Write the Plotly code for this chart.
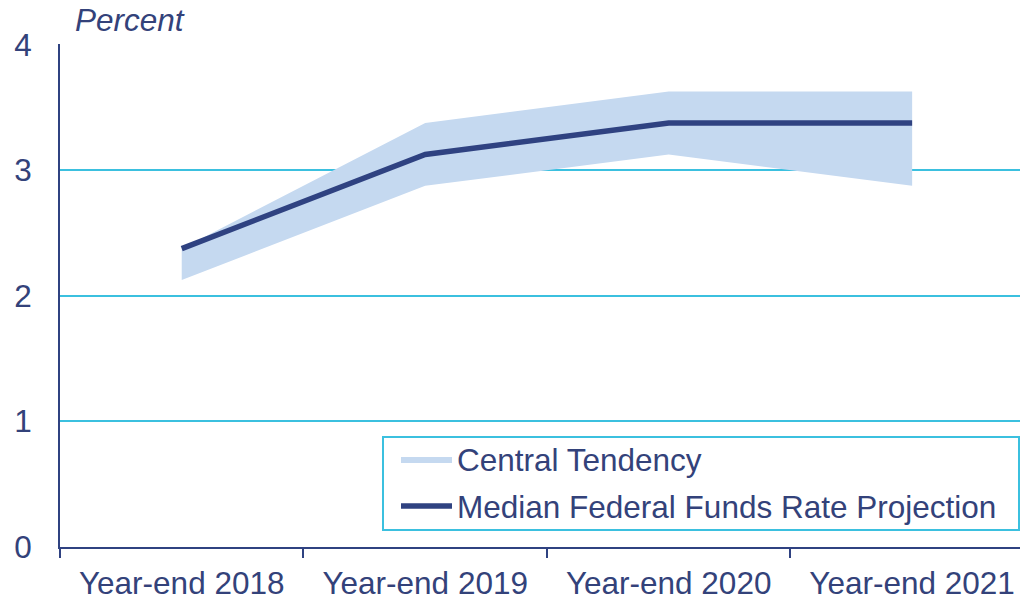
import plotly.graph_objects as go

categories = ["Year-end 2018", "Year-end 2019", "Year-end 2020", "Year-end 2021"]
median_rate = [2.375, 3.125, 3.375, 3.375]
central_low = [2.125, 2.875, 3.125, 2.875]
central_high = [2.375, 3.375, 3.625, 3.625]

xpos = list(range(len(categories)))

NAVY = "#2F4281"
TEXT = "#33427A"
CYAN = "#3BC0DF"
BAND = "#C5D9F0"
FONT = "Liberation Sans, Arial, sans-serif"
FS = 31.5

W, H = 1020, 598
L, T, R = 60, 44, 0
B = H - 547
PW, PH = W - L - R, H - T - B


def px_x(p):
    return (p - L) / PW


def px_y(p):
    return (H - B - p) / PH


fig = go.Figure()
fig.add_trace(go.Scatter(x=xpos, y=central_low, mode="lines", line=dict(width=0, color=BAND),
                         showlegend=False, hoverinfo="skip", legendgroup="ct"))
fig.add_trace(go.Scatter(x=xpos, y=central_high, mode="lines", line=dict(width=0, color=BAND),
                         fill="tonexty", fillcolor=BAND, name="Central Tendency", legendgroup="ct"))
fig.add_trace(go.Scatter(x=xpos, y=median_rate, mode="lines", line=dict(width=5.5, color=NAVY),
                         name="Median Federal Funds Rate Projection", legendgroup="med"))

fig.update_layout(
    width=W, height=H,
    margin=dict(l=L, r=R, t=T, b=B),
    paper_bgcolor="white", plot_bgcolor="white",
    font=dict(family=FONT, size=FS, color=TEXT),
    legend=dict(
        x=px_x(396), y=px_y(432), xanchor="left", yanchor="top",
        borderwidth=0, bgcolor="rgba(0,0,0,0)",
        font=dict(family=FONT, size=FS, color=TEXT),
        traceorder="grouped", itemwidth=51, tracegroupgap=3,
    ),
    shapes=[dict(
        type="rect", xref="paper", yref="paper",
        x0=px_x(383), x1=px_x(1019), y0=px_y(530), y1=px_y(437),
        line=dict(color=CYAN, width=2), fillcolor="white", layer="above",
    )],
    annotations=[dict(
        text="<i>Percent</i>", xref="paper", yref="paper",
        x=px_x(73), y=px_y(20), xanchor="left", yanchor="middle",
        showarrow=False, font=dict(family=FONT, size=FS, color=TEXT),
    )],
)

fig.update_xaxes(
    range=[-0.5, 3.443], tickvals=xpos, ticktext=categories, automargin=False,
    showgrid=False, zeroline=False, showline=True, linecolor=NAVY, linewidth=2,
    ticks="", ticklabelstandoff=7,
    minor=dict(tickmode="array", tickvals=[-0.5, 0.5, 1.5, 2.5], ticks="outside",
               ticklen=9, tickwidth=2, tickcolor=NAVY, showgrid=False),
    tickfont=dict(family=FONT, size=FS, color=TEXT),
)
fig.update_yaxes(
    range=[0, 4.004], tickvals=[0, 1, 2, 3, 4], showgrid=True, gridcolor=CYAN, gridwidth=2,
    zeroline=False, showline=True, linecolor=NAVY, linewidth=2, ticks="", automargin=False,
    ticklabelstandoff=20,
    tickfont=dict(family=FONT, size=FS, color=TEXT),
)

fig.write_html(
    "out.html",
    config={"displayModeBar": False},
    post_script="document.body.style.margin='0';document.body.style.overflow='hidden';",
)
